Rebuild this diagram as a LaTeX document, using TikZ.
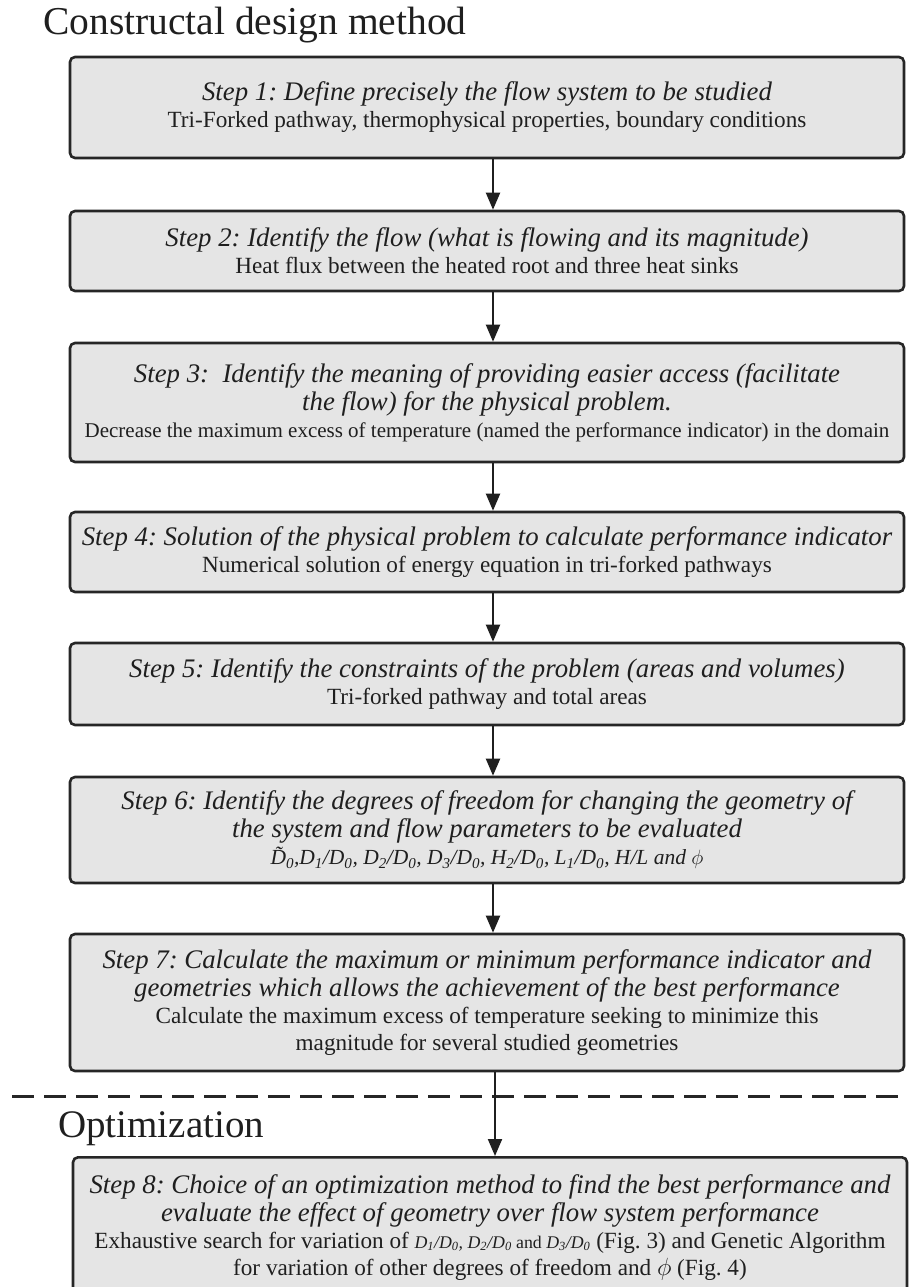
\documentclass[tikz,border=0pt]{standalone}
\usepackage{fontspec}
\setmainfont{Liberation Serif}
\usetikzlibrary{arrows.meta}
\newcommand{\stephead}{\fontsize{26.8}{28}\selectfont\itshape\spaceskip=\fontdimen2\font\xspaceskip=\fontdimen2\font}
\newcommand{\stepbody}[1][23.2]{\fontsize{#1}{27}\selectfont\upshape\spaceskip=\fontdimen2\font\xspaceskip=\fontdimen2\font}
\newcommand{\smallpart}{\fontsize{17.8}{27}\selectfont\spaceskip=\fontdimen2\font}
\newcommand{\dratio}[2]{#1\textsubscript{#2}/D\textsubscript{0}}
\begin{document}
\begin{tikzpicture}[x=1pt,y=-1pt,
		stepbox/.style={draw=black!85, line width=2.6pt, rounded corners=5pt, fill=black!10, text=black!88, text width=826pt, inner xsep=4pt, inner ysep=2pt, align=center},
		flow/.style={-{Triangle[length=17pt,width=14pt]}, line width=2pt, draw=black!88},
		heading/.style={anchor=base west, inner sep=0pt, text=black!88}]
		\useasboundingbox (0,0) rectangle (908,1287);

		\node(title)[heading, font=\fontsize{39.5}{40}\selectfont] at (43,35){Constructal design method};

		\node(step1)[stepbox, minimum height=101pt] at (487,107.5){{\stephead Step 1: Define precisely the flow system to be studied\par}{\stepbody Tri-Forked pathway, thermophysical properties, boundary conditions\par}};
		\node(step2)[stepbox, minimum height=80pt] at (487,251){{\stephead Step 2: Identify the flow (what is flowing and its magnitude)\par}{\stepbody Heat flux between the heated root and three heat sinks\par}};
		\node(step3)[stepbox, minimum height=119pt] at (487,402.5){{\stephead Step 3: \ Identify the meaning of providing easier access (facilitate\\ the flow) for the physical problem.\par}{\stepbody[21] Decrease the maximum excess of temperature (named the performance indicator) in the domain\par}};
		\node(step4)[stepbox, minimum height=80pt] at (487,552){{\stephead Step 4: Solution of the physical problem to calculate performance indicator\par}{\stepbody Numerical solution of energy equation in tri-forked pathways\par}};
		\node(step5)[stepbox, minimum height=82pt] at (487,684){{\stephead Step 5: Identify the constraints of the problem (areas and volumes)\par}{\stepbody Tri-forked pathway and total areas\par}};
		\node(step6)[stepbox, minimum height=106pt] at (487,830){{\stephead Step 6: Identify the degrees of freedom for changing the geometry of\\ the system and flow parameters to be evaluated\par}{\stepbody[21.5]\itshape \~{D}\textsubscript{0},\dratio{D}{1}, \dratio{D}{2}, \dratio{D}{3}, \dratio{H}{2}, \dratio{L}{1}, H/L and $\phi$\par}};
		\node(step7)[stepbox, minimum height=137pt] at (487,1002.5){{\stephead Step 7: Calculate the maximum or minimum performance indicator and\\ geometries which allows the achievement of the best performance\par}{\stepbody Calculate the maximum excess of temperature seeking to minimize this\\ magnitude for several studied geometries\par}};

		\coordinate(cutleft) at (12,1096);
		\coordinate(cutright) at (908,1096);
		\draw[line width=3pt, dash pattern=on 22pt off 10pt, black!85] (cutleft) -- (cutright);

		\node(optim)[heading, font=\fontsize{39}{40}\selectfont] at (58,1137){Optimization};

		\node(step8)[stepbox, anchor=north, minimum height=140pt] at (490,1156){{\stephead Step 8: Choice of an optimization method to find the best performance and\\ evaluate the effect of geometry over flow system performance\par}{\stepbody Exhaustive search for variation of {\smallpart\itshape \dratio{D}{1}, \dratio{D}{2} \upshape and \itshape \dratio{D}{3}} (Fig. 3) and Genetic Algorithm\\ for variation of other degrees of freedom and $\phi$ (Fig. 4)\par}};

		\foreach \a/\b in {1/2,2/3,3/4,4/5,5/6,6/7}
			\draw[flow] ([xshift=6pt]step\a.south) -- ([xshift=6pt]step\b.north);
		\draw[flow] ([xshift=8pt]step7.south) -- ([xshift=5pt]step8.north);
	\end{tikzpicture}
\end{document}
